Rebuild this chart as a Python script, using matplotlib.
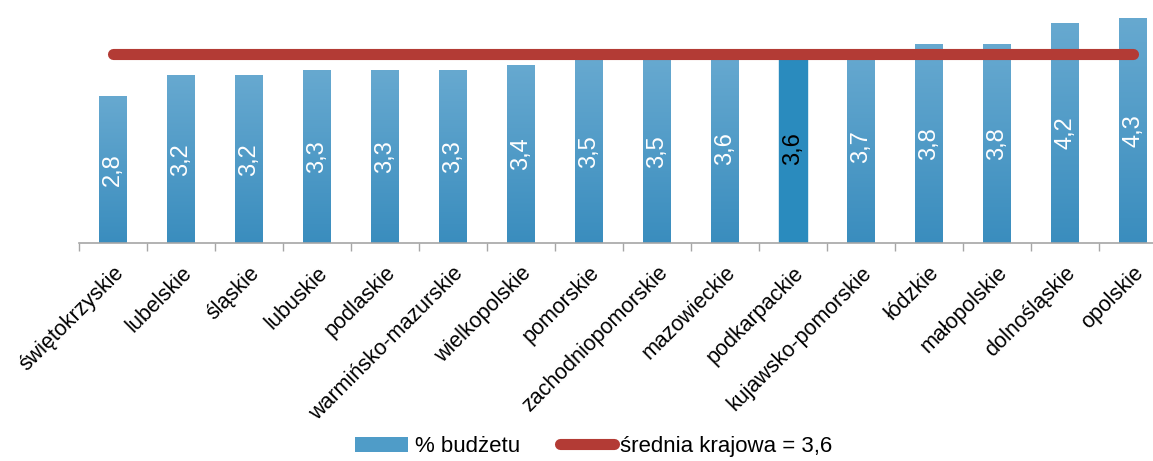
import numpy as np
import matplotlib.pyplot as plt
from matplotlib.patches import Patch
from matplotlib.lines import Line2D
from matplotlib.colors import LinearSegmentedColormap

regions = ['świętokrzyskie', 'lubelskie', 'śląskie', 'lubuskie', 'podlaskie',
           'warmińsko-mazurskie', 'wielkopolskie', 'pomorskie', 'zachodniopomorskie',
           'mazowieckie', 'podkarpackie', 'kujawsko-pomorskie', 'łódzkie',
           'małopolskie', 'dolnośląskie', 'opolskie']
values = [2.8, 3.2, 3.2, 3.3, 3.3, 3.3, 3.4, 3.5, 3.5, 3.6, 3.6, 3.7, 3.8, 3.8, 4.2, 4.3]
highlight = 'podkarpackie'
national_avg = 3.6

plt.rcParams['font.family'] = ['Liberation Sans', 'DejaVu Sans']

fig = plt.figure(figsize=(11.53, 4.61), dpi=100)
# axis runs a little past the right edge of the figure, as in the original
ax = fig.add_axes([79 / 1153, 218 / 461, 1088 / 1153, 243 / 461])

x = np.arange(len(regions))
bw = 0.41
bars = ax.bar(x, values, width=bw, color='#4f9cc8', zorder=2)

# gradient fill (light top, darker bottom)
grad = np.linspace(0, 1, 256).reshape(-1, 1)
cmap = LinearSegmentedColormap.from_list('g', ['#3a8dbe', '#67a9d0'])
for b, name in zip(bars, regions):
    if name == highlight:
        b.set_color('#2a8bbe')
        continue
    bx, by = b.get_x(), b.get_y()
    im = ax.imshow(grad, cmap=cmap, origin='lower', aspect='auto',
                   extent=[bx, bx + b.get_width(), by, by + b.get_height()], zorder=2)
    im.set_clip_path(b)
    b.set_facecolor('none')

for xi, v, name in zip(x, values, regions):
    ax.text(xi, v / 2, f'{v:.1f}'.replace('.', ','), rotation=90, ha='center', va='center',
            fontsize=17, color='black' if name == highlight else 'white', zorder=3)

ax.plot([x[0], x[-1]], [national_avg, national_avg], color='#b33b35', lw=8,
        solid_capstyle='round', zorder=4)

ax.set_xlim(-0.5, len(regions) - 0.5)
ax.set_ylim(0, 4.64)
ax.set_yticks([])
for s in ['top', 'right', 'left']:
    ax.spines[s].set_visible(False)
ax.spines['bottom'].set_color('#a6a6a6')
ax.spines['bottom'].set_linewidth(1.2)

ax.set_xticks(np.arange(len(regions) + 1) - 0.5)
ax.set_xticklabels([])
ax.tick_params(axis='x', which='major', length=6, color='#a6a6a6', width=1)
ax.set_xticks(x, minor=True)
ax.set_xticklabels(regions, minor=True, rotation=45, ha='right', rotation_mode='anchor',
                   fontsize=15.5)
ax.tick_params(axis='x', which='minor', length=0, pad=14)

handles = [Patch(facecolor='#4f9cc8', edgecolor='none'),
           Line2D([0], [0], color='#b33b35', lw=8, solid_capstyle='round')]
fig.legend(handles, ['% budżetu', 'średnia krajowa = 3,6'], loc='lower center',
           bbox_to_anchor=(0.515, -0.035), ncol=2, frameon=False, fontsize=16,
           handlelength=2.4, handletextpad=0.3, columnspacing=1.8)

fig.savefig('out.png', dpi=100)
